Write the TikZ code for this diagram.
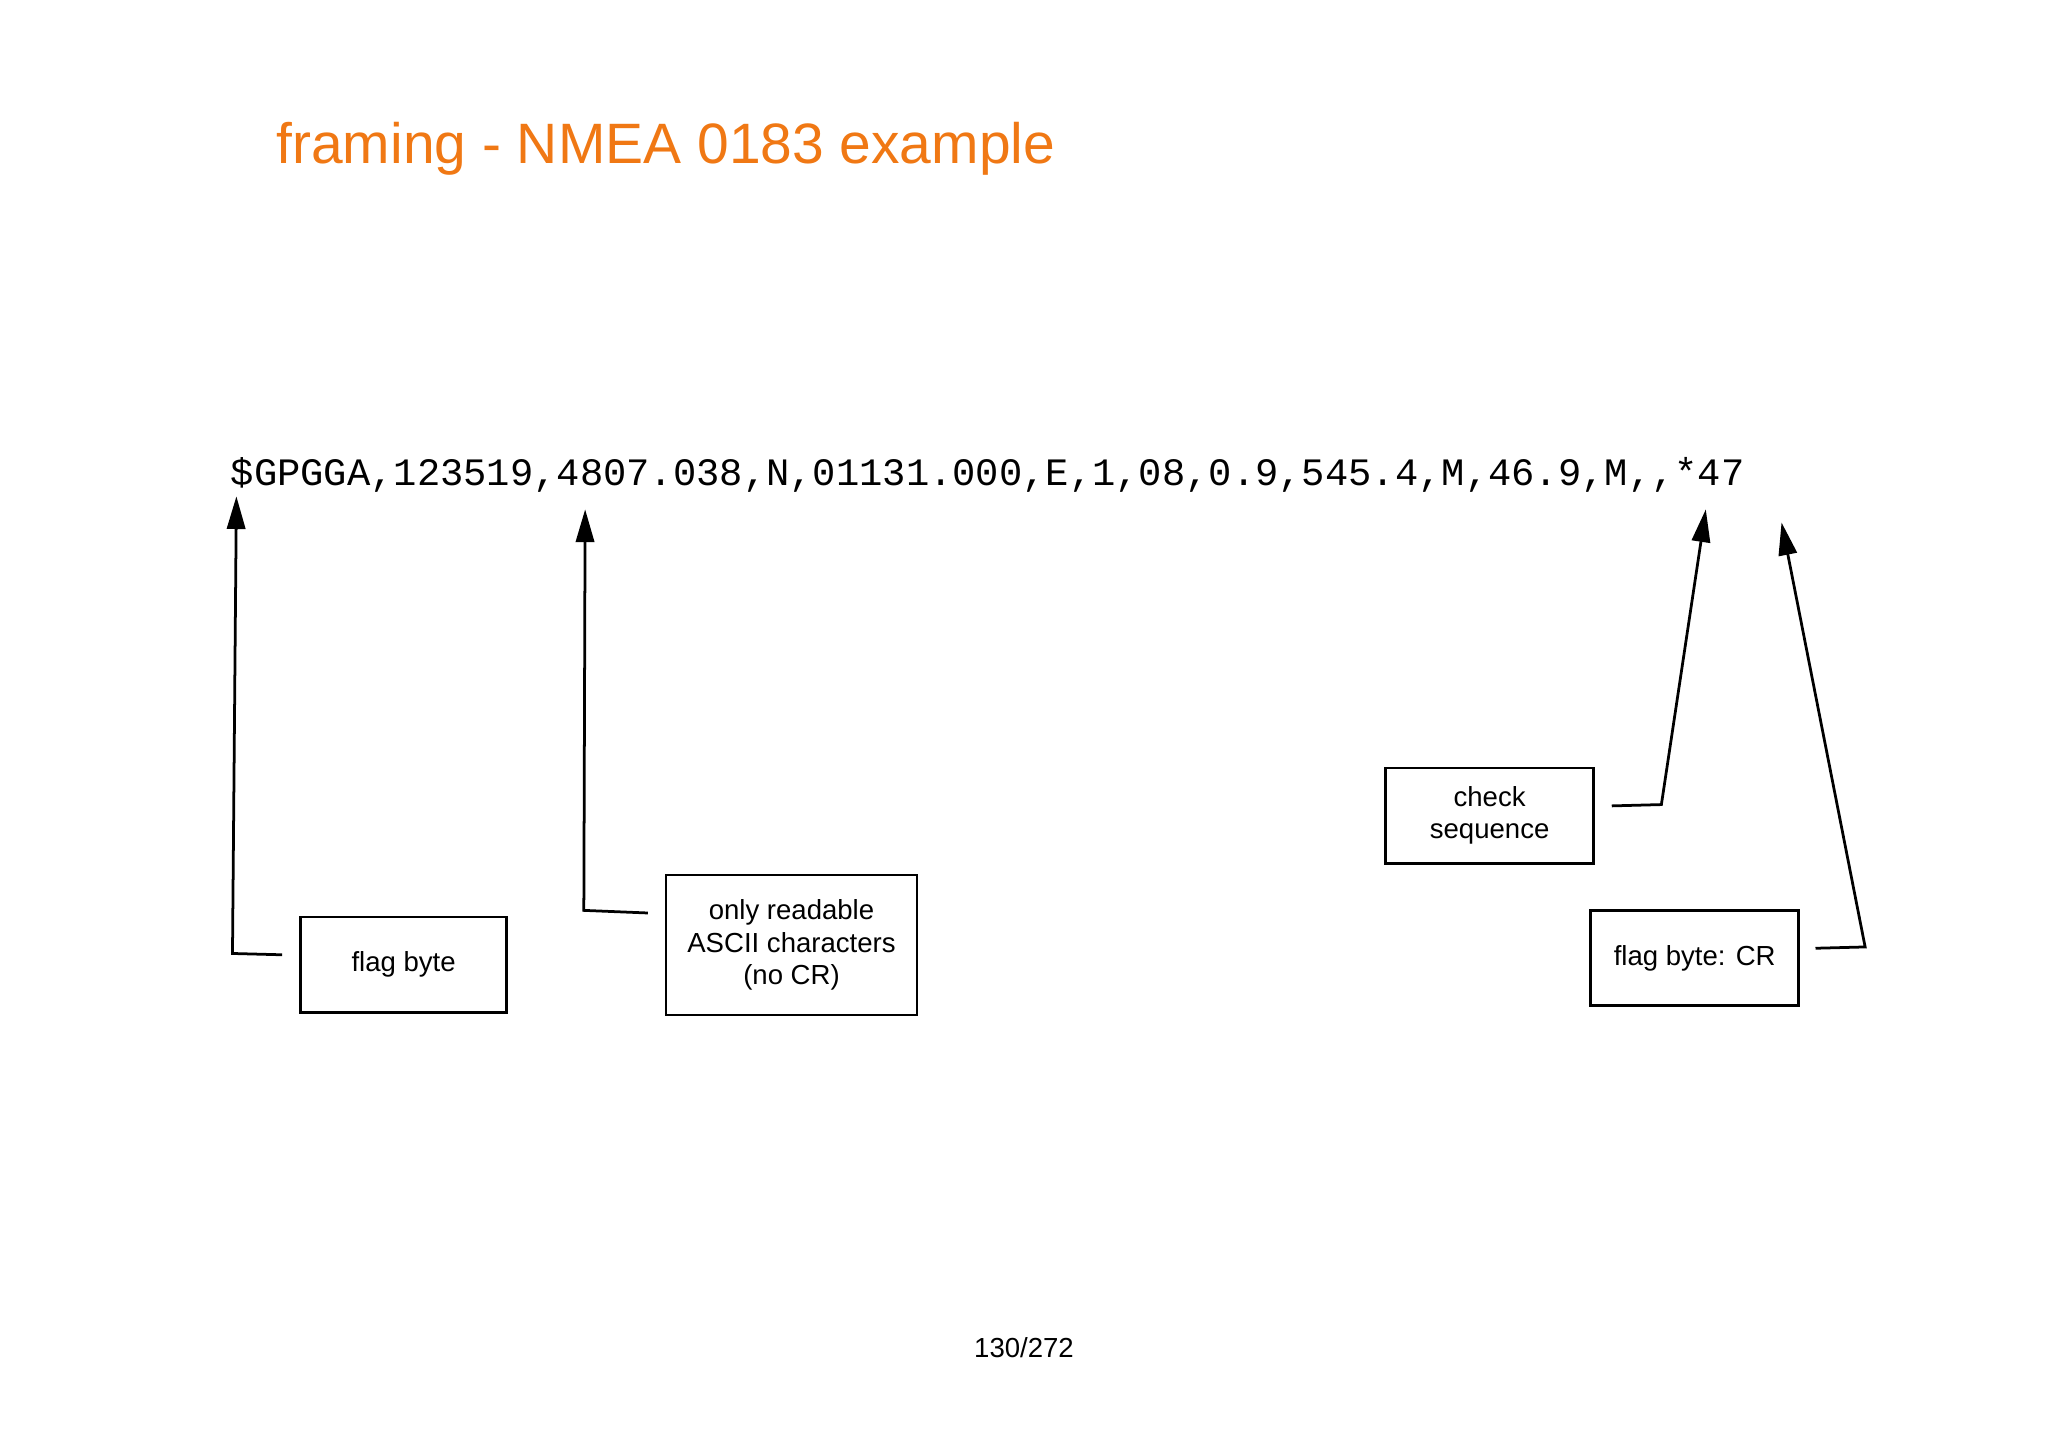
\documentclass[tikz,border=0pt]{standalone}
\usepackage{fontspec}
\setmainfont{Liberation Sans}
\newfontfamily\monof{Liberation Mono}
\usetikzlibrary{arrows.meta}
\definecolor{orng}{RGB}{240,120,20}
\begin{document}
\begin{tikzpicture}[x=0.01cm,y=-0.01cm,
  lbl/.style={draw,line width=0.6pt,align=center,font=\fontsize{6.0}{7}\selectfont,inner sep=0,minimum height=0.73cm},
  conn/.style={line width=0.6pt,-{Triangle[length=2.5mm,width=1.4mm]}}]
\useasboundingbox (0,0) rectangle (1568,1108);
\node[anchor=base west,text=orng,font=\fontsize{12.4}{15}\selectfont,inner sep=0] (title) at (211,125) {framing - NMEA 0183 example};
\node[anchor=base west,font=\monof\fontsize{8.45}{10}\selectfont,inner sep=0] (msg) at (176,372) {\$GPGGA,123519,4807.038,N,01131.000,E,1,08,0.9,545.4,M,46.9,M,,*47};
\node[lbl,minimum width=1.58cm] (fb) at (309,738.5) {flag byte};
\node[lbl,minimum width=1.92cm,minimum height=1.07cm] (ro) at (606,723.5) {only readable\\ASCII characters\\(no CR)};
\node[lbl,minimum width=1.59cm] (cs) at (1140.5,624.5) {check\\sequence};
\node[lbl,minimum width=1.59cm] (cr) at (1297.5,733.5) {flag byte: CR};
\coordinate (a1) at (216,731); \coordinate (a2) at (178,730); \coordinate (a3) at (181,380);
\coordinate (b1) at (496,699); \coordinate (b2) at (447,697); \coordinate (b3) at (448,390);
\coordinate (c1) at (1234,617); \coordinate (c2) at (1272,616); \coordinate (c3) at (1306,390);
\coordinate (d1) at (1390,726); \coordinate (d2) at (1428,725); \coordinate (d3) at (1364,400);
\draw[conn] (a1) -- (a2) -- (a3);
\draw[conn] (b1) -- (b2) -- (b3);
\draw[conn] (c1) -- (c2) -- (c3);
\draw[conn] (d1) -- (d2) -- (d3);
\node[font=\fontsize{6.0}{7}\selectfont] (pg) at (784,1032) {130/272};
\end{tikzpicture}
\end{document}
